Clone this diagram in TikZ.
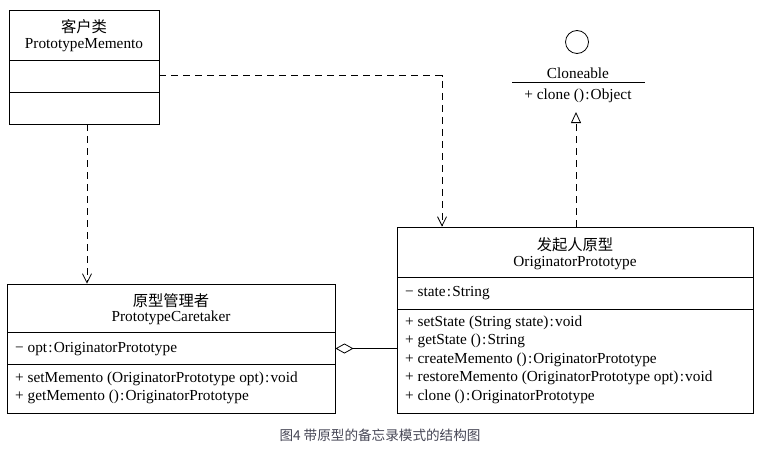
\documentclass[tikz,border=0pt]{standalone}
\usepackage{fontspec}
\setmainfont{Liberation Serif}
\newfontfamily\cjk{Noto Sans CJK SC}
\usetikzlibrary{arrows.meta}
\definecolor{capcol}{RGB}{70,70,85}
\newcommand{\cln}{\kern1.2pt:\kern1.2pt}
\tikzset{
  umlbox/.style={draw, line width=0.9pt, inner sep=0pt},
  divider/.style={line width=0.8pt},
  txt/.style={inner sep=0pt, font=\fontsize{15.3}{17}\selectfont},
  ltxt/.style={txt, anchor=west},
  dep/.style={line width=0.8pt, dash pattern=on 7pt off 5pt, -{Straight Barb[length=9pt,width=9pt,line width=0.8pt]}},
  real/.style={line width=0.8pt, dash pattern=on 7pt off 5pt, -{Triangle[open,length=11pt,width=10pt,line width=0.8pt]}},
  agg/.style={line width=0.8pt, {Diamond[open,length=18pt,width=10pt,line width=0.8pt]}-}
}
\begin{document}
\begin{tikzpicture}[x=1pt,y=-1pt]
\useasboundingbox (0,0) rectangle (765,452);
% client
\node[umlbox, minimum width=150pt, minimum height=114pt] (client) at (84,67) {};
\draw[divider] (9,60) -- (159,60);
\draw[divider] (9,92) -- (159,92);
\node[txt] (clientcn) at (84,27) {\cjk 客户类};
\node[txt] (clienten) at (84,45) {PrototypeMemento};
% caretaker
\node[umlbox, minimum width=328pt, minimum height=129pt] (care) at (171,348.5) {};
\draw[divider] (7,332) -- (335,332);
\draw[divider] (7,364) -- (335,364);
\node[txt] (carecn) at (171,301) {\cjk 原型管理者};
\node[txt] (careen) at (171,318) {PrototypeCaretaker};
\node[ltxt] (careattr) at (15,349) {− opt\cln OriginatorPrototype};
\node[ltxt] (carem1) at (15,379) {+ setMemento (OriginatorPrototype opt)\cln void};
\node[ltxt] (carem2) at (15,397) {+ getMemento ()\cln OriginatorPrototype};
% originator
\node[umlbox, minimum width=356pt, minimum height=186pt] (orig) at (575,320) {};
\draw[divider] (397,277) -- (753,277);
\draw[divider] (397,309) -- (753,309);
\node[txt] (origcn) at (575,245) {\cjk 发起人原型};
\node[txt] (origen) at (575,263) {OriginatorPrototype};
\node[ltxt] (origattr) at (405,293) {− state\cln String};
\node[ltxt] (origm1) at (405,323) {+ setState (String state)\cln void};
\node[ltxt] (origm2) at (405,341) {+ getState ()\cln String};
\node[ltxt] (origm3) at (405,360) {+ createMemento ()\cln OriginatorPrototype};
\node[ltxt] (origm4) at (405,378) {+ restoreMemento (OriginatorPrototype opt)\cln void};
\node[ltxt] (origm5) at (405,397) {+ clone ()\cln OriginatorPrototype};
% interface
\node[draw, circle, line width=0.8pt, minimum size=23pt, inner sep=0pt] (ball) at (577,42) {};
\node[txt] (iname) at (578,73) {Cloneable};
\draw[divider] (512,82) -- (645,82);
\node[txt] (iop) at (578,96) {+ clone ()\cln Object};
\coordinate (itip) at (576,112);
% connectors
\draw[dep] ([yshift=-8.5pt]client.east) -| ([xshift=-133pt]orig.north);
\draw[dep] ([xshift=3pt]client.south) -- ([xshift=3pt]client.south |- care.north);
\draw[real] ([xshift=1pt]orig.north) -- (itip);
\draw[agg] (care.east) -- (care.east -| orig.west);
% caption
\node[inner sep=0pt, text=capcol, font=\cjk\fontsize{13.6}{15}\selectfont] (caption) at (380,435) {图4 带原型的备忘录模式的结构图};
\end{tikzpicture}
\end{document}
